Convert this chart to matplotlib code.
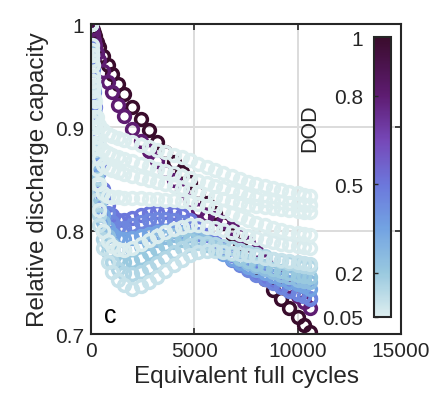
import numpy as np
import matplotlib
matplotlib.use("Agg")
import matplotlib.pyplot as plt
from matplotlib.colors import LinearSegmentedColormap, Normalize
from matplotlib.colorbar import ColorbarBase

plt.rcParams['font.family'] = ['Liberation Sans', 'DejaVu Sans']

# shared equivalent-full-cycle sample points
efc = [0, 50, 100, 150, 200, 300, 400, 600, 800, 1000, 1300, 1600, 2000, 2400,
       2800, 3200, 3600, 4000, 4400, 4800, 5200, 5600, 6000, 6400, 6800, 7200,
       7600, 8000, 8400, 8800, 9200, 9600, 10000, 10300, 10600]

# relative capacity per series
cap_dod100 = [1.0, 0.997, 0.994, 0.991, 0.988, 0.983, 0.978, 0.969, 0.960, 0.952, 0.942, 0.932,
              0.920, 0.908, 0.897, 0.886, 0.876, 0.866, 0.857, 0.847, 0.837, 0.827, 0.817, 0.807,
              0.797, 0.786, 0.775, 0.764, 0.753, 0.743, 0.734, 0.725, 0.716, 0.709, 0.702]
cap_dod80 = [1.0, 0.995, 0.990, 0.985, 0.980, 0.972, 0.965, 0.955, 0.944, 0.934, 0.922, 0.911,
             0.898, 0.887, 0.877, 0.867, 0.858, 0.849, 0.839, 0.829, 0.820, 0.815, 0.812, 0.808,
             0.803, 0.796, 0.788, 0.780, 0.771, 0.762, 0.754, 0.746, 0.737, 0.731, 0.725]
cap_dod50 = [1.0, 0.980, 0.960, 0.940, 0.920, 0.890, 0.865, 0.840, 0.825, 0.815, 0.810, 0.810,
             0.812, 0.815, 0.817, 0.818, 0.818, 0.817, 0.815, 0.810, 0.803, 0.796, 0.789, 0.782,
             0.776, 0.770, 0.765, 0.760, 0.756, 0.752, 0.748, 0.744, 0.740, 0.737, 0.734]
cap_dod45 = [1.0, 0.978, 0.956, 0.934, 0.913, 0.882, 0.857, 0.832, 0.817, 0.808, 0.803, 0.803,
             0.805, 0.808, 0.810, 0.811, 0.811, 0.810, 0.808, 0.803, 0.797, 0.790, 0.784, 0.778,
             0.772, 0.767, 0.762, 0.757, 0.753, 0.749, 0.745, 0.742, 0.739, 0.737, 0.735]
cap_dod35 = [1.0, 0.975, 0.950, 0.925, 0.900, 0.865, 0.840, 0.815, 0.803, 0.797, 0.793, 0.792,
             0.793, 0.795, 0.797, 0.799, 0.800, 0.800, 0.799, 0.796, 0.792, 0.787, 0.782, 0.777,
             0.773, 0.769, 0.765, 0.762, 0.759, 0.756, 0.753, 0.750, 0.748, 0.746, 0.744]
cap_dod25 = [1.0, 0.972, 0.945, 0.918, 0.892, 0.857, 0.832, 0.808, 0.795, 0.787, 0.782, 0.781,
             0.782, 0.785, 0.788, 0.791, 0.794, 0.796, 0.797, 0.796, 0.793, 0.789, 0.785, 0.781,
             0.777, 0.773, 0.769, 0.766, 0.763, 0.760, 0.757, 0.755, 0.752, 0.751, 0.750]
cap_dod20 = [1.0, 0.970, 0.940, 0.910, 0.885, 0.850, 0.825, 0.800, 0.787, 0.778, 0.772, 0.770,
             0.771, 0.774, 0.778, 0.782, 0.786, 0.789, 0.791, 0.791, 0.789, 0.786, 0.783, 0.780,
             0.777, 0.774, 0.771, 0.768, 0.766, 0.763, 0.761, 0.759, 0.757, 0.756, 0.755]
cap_dod15 = [1.0, 0.965, 0.935, 0.905, 0.878, 0.840, 0.815, 0.792, 0.779, 0.770, 0.763, 0.759,
             0.758, 0.760, 0.764, 0.769, 0.774, 0.779, 0.783, 0.786, 0.788, 0.788, 0.787, 0.785,
             0.783, 0.781, 0.779, 0.777, 0.775, 0.773, 0.771, 0.769, 0.767, 0.766, 0.765]
cap_dod10 = [1.0, 0.960, 0.930, 0.900, 0.870, 0.830, 0.805, 0.783, 0.770, 0.760, 0.752, 0.747,
             0.744, 0.746, 0.750, 0.755, 0.761, 0.767, 0.772, 0.776, 0.779, 0.780, 0.780, 0.779,
             0.778, 0.777, 0.776, 0.775, 0.774, 0.773, 0.772, 0.771, 0.770, 0.769, 0.768]
cap_dod5a = [1.0, 0.965, 0.935, 0.905, 0.880, 0.845, 0.820, 0.800, 0.790, 0.785, 0.782, 0.781,
             0.783, 0.787, 0.791, 0.795, 0.799, 0.802, 0.804, 0.805, 0.805, 0.804, 0.803, 0.801,
             0.799, 0.797, 0.795, 0.793, 0.791, 0.789, 0.787, 0.786, 0.785, 0.784, 0.783]
cap_dod5b = [1.0, 0.970, 0.940, 0.910, 0.885, 0.860, 0.845, 0.836, 0.834, 0.833, 0.833, 0.832,
             0.832, 0.832, 0.831, 0.831, 0.830, 0.830, 0.829, 0.828, 0.826, 0.824, 0.822, 0.819,
             0.816, 0.813, 0.810, 0.807, 0.805, 0.803, 0.801, 0.799, 0.798, 0.797, 0.796]
cap_dod5c = [1.0, 0.970, 0.945, 0.920, 0.900, 0.880, 0.870, 0.864, 0.861, 0.859, 0.857, 0.855,
             0.853, 0.851, 0.849, 0.847, 0.845, 0.843, 0.841, 0.839, 0.837, 0.835, 0.833, 0.831,
             0.829, 0.827, 0.825, 0.824, 0.823, 0.822, 0.821, 0.820, 0.819, 0.818, 0.818]
cap_dod5e = [1.0, 0.975, 0.950, 0.928, 0.910, 0.892, 0.884, 0.878, 0.875, 0.873, 0.871, 0.869,
             0.867, 0.865, 0.863, 0.860, 0.858, 0.856, 0.853, 0.851, 0.848, 0.846, 0.843, 0.841,
             0.838, 0.836, 0.834, 0.832, 0.830, 0.829, 0.828, 0.827, 0.826, 0.825, 0.825]
cap_dod5d = [1.0, 0.980, 0.960, 0.940, 0.925, 0.910, 0.902, 0.897, 0.894, 0.892, 0.890, 0.888,
             0.886, 0.883, 0.881, 0.878, 0.876, 0.873, 0.871, 0.868, 0.865, 0.862, 0.859, 0.856,
             0.853, 0.850, 0.847, 0.845, 0.843, 0.841, 0.839, 0.837, 0.836, 0.835, 0.834]

series = [cap_dod100, cap_dod80, cap_dod50, cap_dod45, cap_dod35, cap_dod25, cap_dod20,
          cap_dod15, cap_dod10, cap_dod5a, cap_dod5b, cap_dod5c, cap_dod5e, cap_dod5d]
dod = [1.0, 0.8, 0.5, 0.45, 0.35, 0.25, 0.2, 0.15, 0.1, 0.06, 0.05, 0.05, 0.05, 0.05]

cb_ticks = [0.05, 0.2, 0.5, 0.8, 1]
cb_ticklabels = ['0.05', '0.2', '0.5', '0.8', '1']

cmap = LinearSegmentedColormap.from_list('dod', [
    (0.0, '#ddeeef'), (0.16, '#98c8df'), (0.32, '#72a2e2'), (0.47, '#6c78dc'),
    (0.63, '#7648b8'), (0.79, '#5e1c72'), (1.0, '#3a0c2c')])
norm = Normalize(vmin=0.05, vmax=1)

fig = plt.figure(figsize=(4.34, 4.10), dpi=100)
ax = fig.add_axes([91 / 434, 75 / 410, 310 / 434, 310 / 410])

for cap, d in zip(series, dod):
    ax.plot(efc, cap, 'o', ms=8.5, mfc='none', mew=2.5, color=cmap(norm(d)))

ax.set_xlim(0, 15000)
ax.set_ylim(0.7, 1.0)
ax.set_xticks([0, 5000, 10000, 15000])
ax.set_xticklabels(['0', '5000', '10000', '15000'])
ax.set_yticks([0.7, 0.8, 0.9, 1.0])
ax.set_yticklabels(['0.7', '0.8', '0.9', '1'])
ax.tick_params(direction='in', length=4, width=1.2, labelsize=15, top=True, right=True,
               colors='#262626', pad=5)
ax.grid(True, color='#dcdcdc', lw=1.4)
ax.set_axisbelow(True)
for s in ax.spines.values():
    s.set_color('#262626')
    s.set_linewidth(1.5)
ax.set_xlabel('Equivalent full cycles', fontsize=17.5, color='#262626', labelpad=4)
ax.set_ylabel('Relative discharge capacity', fontsize=17.5, color='#262626', labelpad=4)
ax.text(920, 0.718, 'c', fontsize=18, ha='center', va='center', color='black')

cax = fig.add_axes([374 / 434, 92 / 410, 17 / 434, 280 / 410])
cb = ColorbarBase(cax, cmap=cmap, norm=norm, ticks=cb_ticks)
cb.set_ticklabels(cb_ticklabels)
cax.yaxis.set_ticks_position('left')
cax.tick_params(direction='in', length=3, width=1, labelsize=15, colors='#262626', pad=8)
cb.outline.set_edgecolor('#262626')
cb.outline.set_linewidth(1.5)
fig.text(310 / 434, 1 - 128 / 410, 'DOD', rotation=90, fontsize=15.5, ha='center',
         va='center', color='#262626')

fig.savefig('out.png', dpi=100)
